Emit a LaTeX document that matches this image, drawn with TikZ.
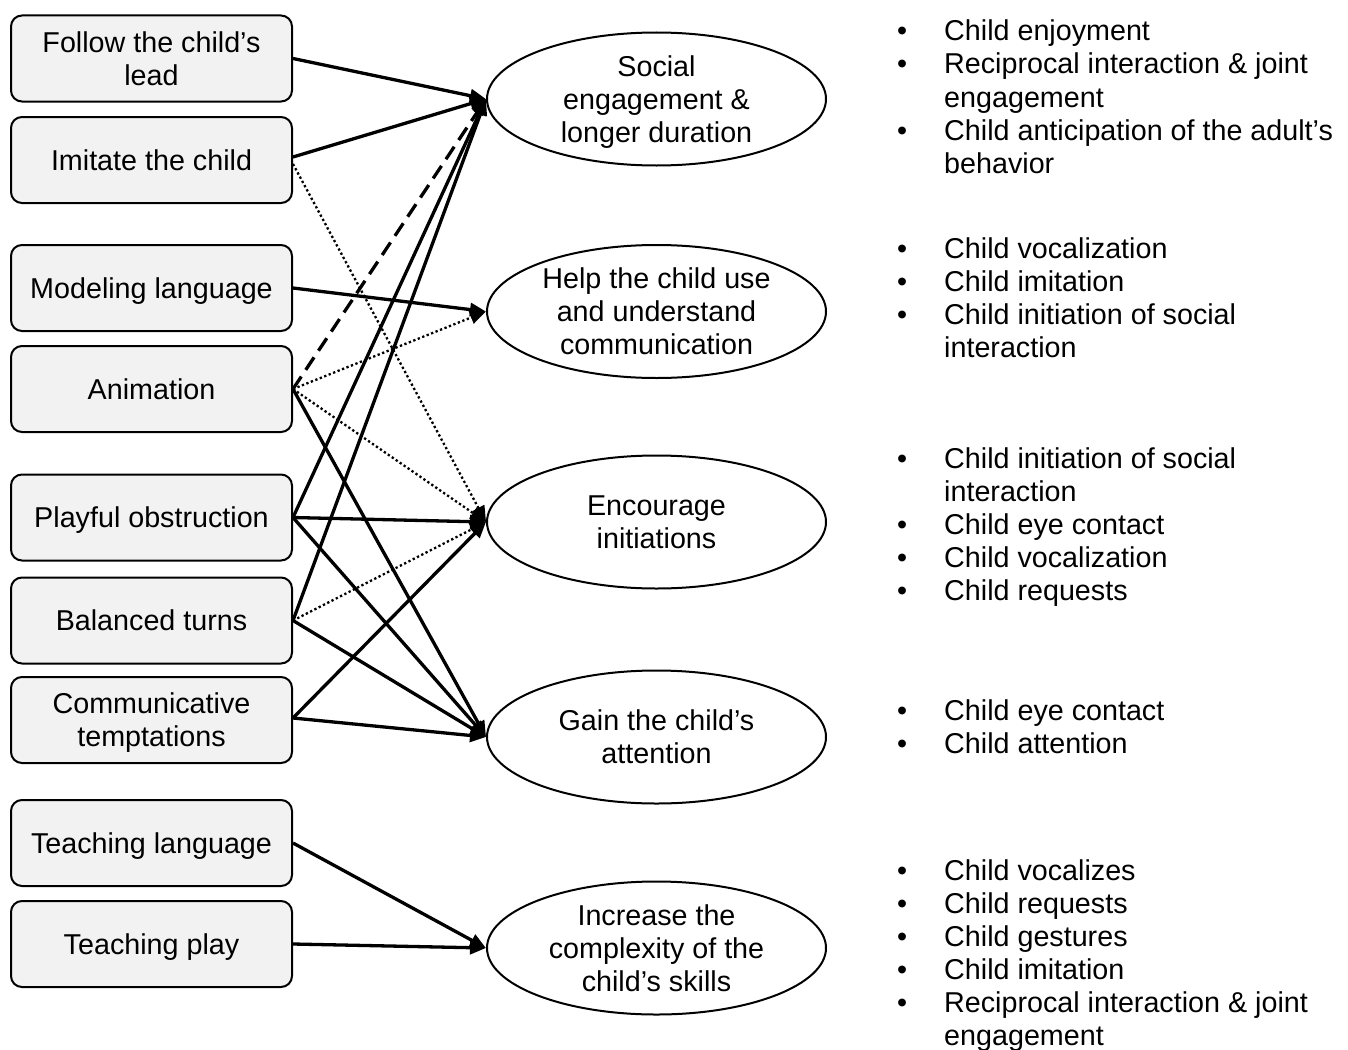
\documentclass[tikz,border=0pt]{standalone}
\usepackage{fontspec}
\setmainfont{Liberation Sans}
\usetikzlibrary{arrows.meta,shapes.geometric}
\definecolor{boxgray}{HTML}{F2F2F2}
\begin{document}
\begin{tikzpicture}[x=1pt,y=-1pt,
  every node/.style={font=\fontsize{28.7}{33}\selectfont},
  box/.style={draw, line width=2pt, rounded corners=11pt, fill=boxgray, minimum width=281pt, minimum height=86pt, align=center, inner sep=0pt, text depth=0pt},
  goal/.style={draw, ellipse, line width=2pt, minimum width=339pt, minimum height=133pt, align=center, inner sep=0pt, text depth=0pt},
  tipstyle/.style={-{Triangle[length=16pt,width=13pt]}},
  arr/.style={line width=3.3pt, tipstyle},
  dotarr/.style={line width=2.3pt, dash pattern=on 2.3pt off 2.5pt, tipstyle},
  dasharr/.style={line width=3.3pt, dash pattern=on 15pt off 8pt, tipstyle},
  txt/.style={anchor=base west, inner sep=0pt}
]
\useasboundingbox[fill=white] (0,0) rectangle (1348,1049);

% left boxes
\node[box] (follow) at (151.5,58.5) {Follow the child’s\\lead};
\node[box] (imit)   at (151.5,160) {Imitate the child};
\node[box] (model)  at (151.5,288) {Modeling language};
\node[box] (anim)   at (151.5,389) {Animation};
\node[box] (play)   at (151.5,517.5) {Playful obstruction};
\node[box] (bal)    at (151.5,620.5) {Balanced turns};
\node[box] (comm)   at (151.5,720) {Communicative\\temptations};
\node[box] (tlang)  at (151.5,843) {Teaching language};
\node[box] (tplay)  at (151.5,944) {Teaching play};

% goal ellipses
\node[goal] (e1) at (656.5,99)  {Social\\engagement \&\\longer duration};
\node[goal] (e2) at (656.5,311.5) {Help the child use\\and understand\\communication};
\node[goal] (e3) at (656.5,522) {Encourage\\initiations};
\node[goal] (e4) at (656.5,737) {Gain the child’s\\attention};
\node[goal] (e5) at (656.5,948) {Increase the\\complexity of the\\child’s skills};

% connectors
\draw[arr] (follow.east) -- (e1.west);
\draw[arr] ([yshift=3pt]imit.east) -- (e1.west);
\draw[dotarr] ([yshift=-4pt]imit.east) -- (e3.west);
\draw[arr] (model.east) -- (e2.west);
\draw[dasharr] (anim.east) -- (e1.west);
\draw[dotarr] (anim.east) -- (e2.west);
\draw[dotarr] (anim.east) -- (e3.west);
\draw[arr] (anim.east) -- (e4.west);
\draw[arr] (play.east) -- (e1.west);
\draw[arr] (play.east) -- (e3.west);
\draw[arr] (play.east) -- (e4.west);
\draw[arr] (bal.east) -- (e1.west);
\draw[dotarr] (bal.east) -- (e3.west);
\draw[arr] (bal.east) -- (e4.west);
\draw[arr] ([yshift=2pt]comm.east) -- (e3.west);
\draw[arr] ([yshift=2pt]comm.east) -- (e4.west);
\draw[arr] (tlang.east) -- (e5.west);
\draw[arr] (tplay.east) -- (e5.west);

% outcome lists
\newcommand{\bul}[3]{\node[txt] (b#1) at (897,#2) {•};\node[txt] (t#1) at (944,#2) {#3};}
\newcommand{\cnt}[3]{\node[txt] (t#1) at (944,#2) {#3};}
\bul{11}{41}{Child enjoyment}
\bul{12}{74}{Reciprocal interaction \& joint}
\cnt{13}{107}{engagement}
\bul{14}{140}{Child anticipation of the adult’s}
\cnt{15}{173}{behavior}

\bul{21}{258}{Child vocalization}
\bul{22}{291}{Child imitation}
\bul{23}{324}{Child initiation of social}
\cnt{24}{357}{interaction}

\bul{31}{468}{Child initiation of social}
\cnt{32}{501}{interaction}
\bul{33}{534}{Child eye contact}
\bul{34}{567}{Child vocalization}
\bul{35}{600}{Child requests}

\bul{41}{720}{Child eye contact}
\bul{42}{753}{Child attention}

\bul{51}{880}{Child vocalizes}
\bul{52}{913}{Child requests}
\bul{53}{946}{Child gestures}
\bul{54}{979}{Child imitation}
\bul{55}{1012}{Reciprocal interaction \& joint}
\cnt{56}{1045}{engagement}
\end{tikzpicture}
\end{document}
